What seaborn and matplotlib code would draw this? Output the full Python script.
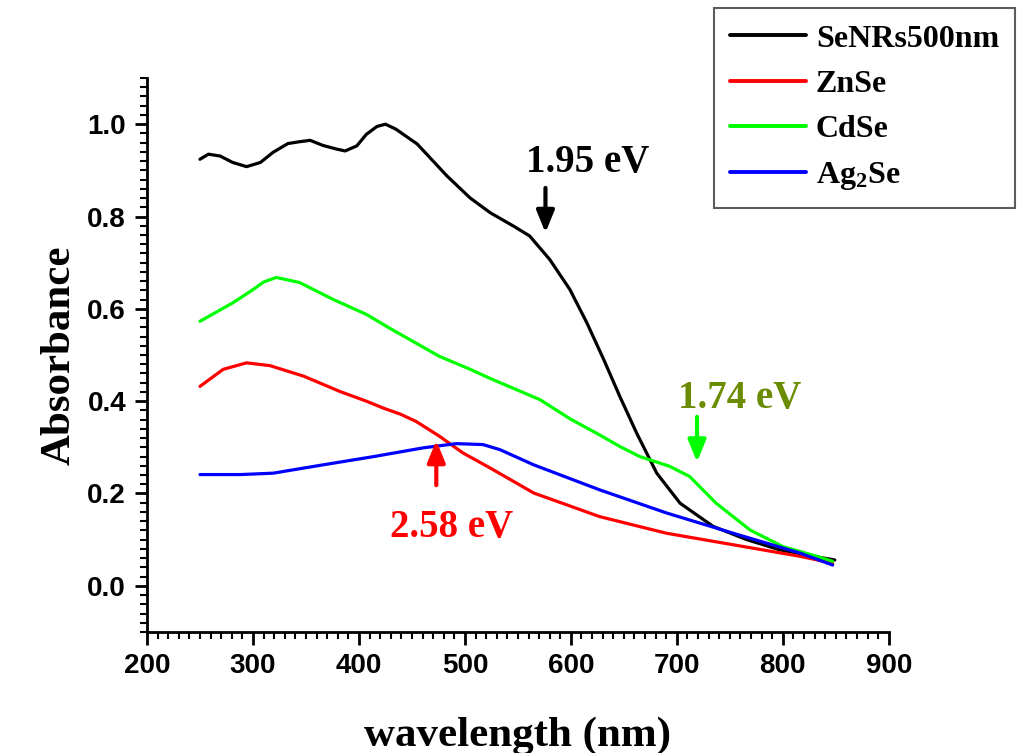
import numpy as np
import pandas as pd
import matplotlib
matplotlib.use("Agg")
import matplotlib.pyplot as plt
import seaborn as sns
from matplotlib.ticker import MultipleLocator
from matplotlib.lines import Line2D

# ---- data ----
series_names = ["SeNRs500nm", "ZnSe", "CdSe", "Ag$_2$Se"]
series_colors = ["#000000", "#FF0000", "#00FF00", "#0000FF"]

black_wl = [250, 258, 269, 281, 294, 307, 319, 333, 344, 354, 366, 379, 387, 398, 407, 417, 425,
            435, 455, 483, 505, 524, 546, 561, 580, 599, 615, 631, 646, 662, 681, 703, 734, 766,
            797, 829, 849]
black_abs = [0.924, 0.935, 0.931, 0.917, 0.908, 0.917, 0.939, 0.958, 0.962, 0.965, 0.954, 0.946,
             0.942, 0.953, 0.978, 0.995, 1.000, 0.989, 0.957, 0.888, 0.840, 0.808, 0.779, 0.758,
             0.707, 0.642, 0.570, 0.490, 0.411, 0.331, 0.244, 0.179, 0.129, 0.100, 0.078, 0.064,
             0.056]

red_wl = [250, 272, 294, 316, 348, 382, 407, 423, 439, 454, 476, 498, 524, 565, 627, 690, 753, 816, 847]
red_abs = [0.432, 0.469, 0.483, 0.477, 0.454, 0.421, 0.400, 0.385, 0.372, 0.356, 0.324, 0.288,
           0.255, 0.201, 0.150, 0.114, 0.089, 0.064, 0.049]

green_wl = [250, 281, 299, 310, 322, 344, 376, 407, 429, 476, 505, 524, 571, 599, 627, 646, 665,
            693, 712, 737, 769, 800, 832, 847]
green_abs = [0.573, 0.613, 0.640, 0.658, 0.668, 0.657, 0.620, 0.588, 0.558, 0.497, 0.469, 0.449,
             0.403, 0.362, 0.327, 0.302, 0.280, 0.259, 0.237, 0.179, 0.121, 0.085, 0.064, 0.053]

blue_wl = [250, 288, 319, 366, 414, 461, 492, 517, 533, 565, 627, 690, 753, 816, 847]
blue_abs = [0.241, 0.241, 0.244, 0.262, 0.280, 0.299, 0.308, 0.306, 0.295, 0.262, 0.208, 0.158,
            0.114, 0.071, 0.045]

annot_texts = ["1.95 eV", "1.74 eV", "2.58 eV"]

# ---- build long-form table ----
frames = []
for name, wl, ab in zip(series_names,
                        [black_wl, red_wl, green_wl, blue_wl],
                        [black_abs, red_abs, green_abs, blue_abs]):
    frames.append(pd.DataFrame({"wavelength": wl, "absorbance": ab, "sample": name}))
df = pd.concat(frames, ignore_index=True)

sns.set_theme(style="ticks")
plt.rcParams["font.family"] = ["Liberation Sans", "DejaVu Sans"]
plt.rcParams["mathtext.fontset"] = "custom"
plt.rcParams["mathtext.rm"] = "Liberation Serif:bold"
plt.rcParams["mathtext.bf"] = "Liberation Serif:bold"
plt.rcParams["mathtext.it"] = "Liberation Serif:bold"
plt.rcParams["text.color"] = "black"
plt.rcParams["axes.labelcolor"] = "black"

fig = plt.figure(figsize=(10.17, 7.53), dpi=100)
ax = fig.add_axes([0.1445, 0.1607, 0.874 - 0.1445, 0.8964 - 0.1607])

sns.lineplot(data=df, x="wavelength", y="absorbance", hue="sample",
             hue_order=series_names, palette=series_colors, linewidth=2.3,
             legend=False, ax=ax, sort=True, estimator=None)

ax.set_xlim(200, 900)
ax.set_ylim(-0.1, 1.1)
ax.xaxis.set_major_locator(MultipleLocator(100))
ax.xaxis.set_minor_locator(MultipleLocator(10))
ax.set_yticks([0.0, 0.2, 0.4, 0.6, 0.8, 1.0])
ax.yaxis.set_minor_locator(MultipleLocator(0.02))
ax.set_yticklabels(["0.0", "0.2", "0.4", "0.6", "0.8", "1.0"])

for s in ["top", "right"]:
    ax.spines[s].set_visible(False)
for s in ["left", "bottom"]:
    ax.spines[s].set_linewidth(2.0)
    ax.spines[s].set_color("black")

ax.tick_params(which="major", direction="out", length=9, width=2, colors="black",
               labelsize=20, pad=6)
ax.tick_params(which="minor", direction="out", length=5, width=1.5, colors="black")
for lab in ax.get_xticklabels() + ax.get_yticklabels():
    lab.set_fontweight("bold")
    lab.set_fontfamily("Liberation Sans")

ax.set_xlabel("wavelength (nm)", fontsize=31, fontweight="bold", color="black",
              fontfamily="Liberation Serif", labelpad=27)
ax.set_ylabel("Absorbance", fontsize=31, fontweight="bold", color="black",
              fontfamily="Liberation Serif", labelpad=6)

# ---- annotations ----
tfont = dict(fontsize=28, fontweight="bold", fontfamily="Liberation Serif", ha="center", va="center")
astyle = "-|>,head_width=0.45,head_length=1.1"
ax.text(616, 0.918, annot_texts[0], color="black", **tfont)
ax.annotate("", xy=(576, 0.765), xytext=(576, 0.862),
            arrowprops=dict(arrowstyle=astyle, color="black", lw=3, shrinkA=0, shrinkB=0))
ax.text(759, 0.405, annot_texts[1], color="#6A8C00", **tfont)
ax.annotate("", xy=(719, 0.268), xytext=(719, 0.366),
            arrowprops=dict(arrowstyle=astyle, color="#00FF00", lw=3, shrinkA=0, shrinkB=0))
ax.text(487, 0.126, annot_texts[2], color="#FF0000", **tfont)
ax.annotate("", xy=(473, 0.315), xytext=(473, 0.218),
            arrowprops=dict(arrowstyle=astyle, color="#FF0000", lw=3, shrinkA=0, shrinkB=0))

# ---- legend ----
handles = [Line2D([0], [0], color=c, lw=2.8) for c in series_colors]
leg = fig.legend(handles, series_names, loc="upper right",
                 bbox_to_anchor=(0.998, 0.989), fancybox=False, frameon=True,
                 prop={"family": "Liberation Serif", "weight": "bold", "size": 23},
                 handlelength=2.4, handletextpad=0.3, labelspacing=0.5,
                 borderpad=0.5, borderaxespad=0.0)
leg.get_frame().set_edgecolor("#333333")
leg.get_frame().set_linewidth(1.5)

fig.savefig("out.png", dpi=100)
